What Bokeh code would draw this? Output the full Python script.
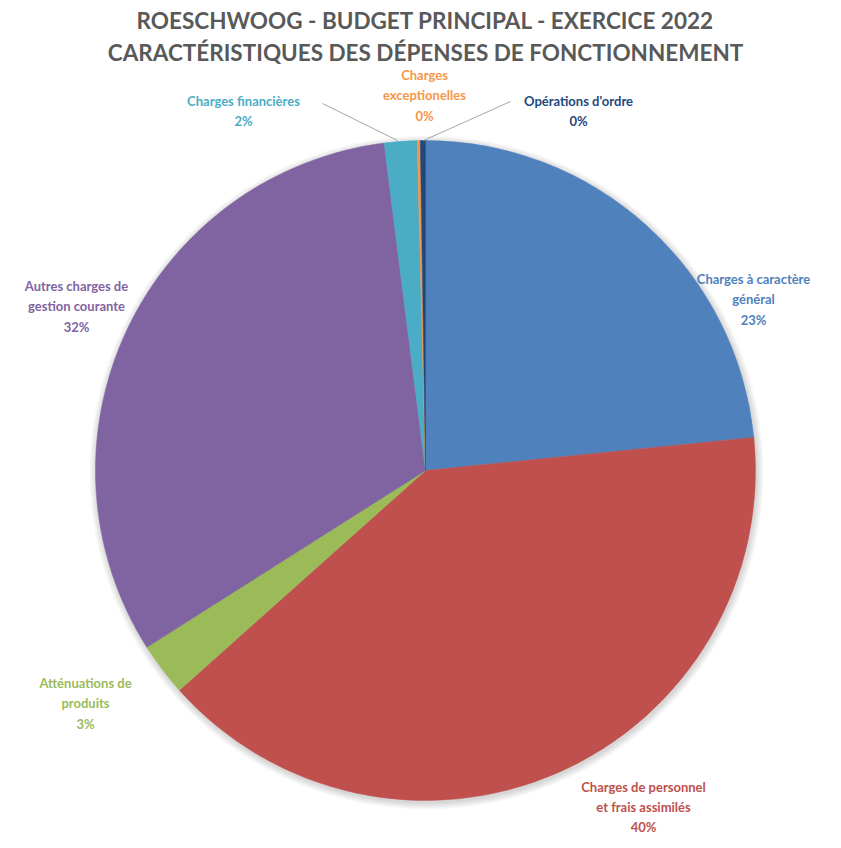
import math
from bokeh.plotting import figure
from bokeh.models import Range1d, ColumnDataSource
from bokeh.core.properties import value
from bokeh.embed import file_html
from bokeh.resources import INLINE

# ---- data ----
categories = [
    "Charges à caractère\ngénéral",
    "Charges de personnel\net frais assimilés",
    "Atténuations de\nproduits",
    "Autres charges de\ngestion courante",
    "Charges financières",
    "Charges\nexceptionelles",
    "Opérations d'ordre",
]
shares = [23.4, 40.0, 2.6, 32.0, 1.6, 0.15, 0.25]
colors = ["#4F81BD", "#C0504D", "#9BBB59", "#8064A2", "#4BACC6", "#F79646", "#1F497D"]
title_lines = ["ROESCHWOOG - BUDGET PRINCIPAL - EXERCICE 2022",
               "CARACTÉRISTIQUES DES DÉPENSES DE FONCTIONNEMENT"]

# ---- layout ----
W, H = 833, 840
def px(x):
    return x
def py(y):
    return H - y

CX, CY, R = px(425), py(470), 330
# label anchor (centre x, first line y) in window pixels
label_pos = [(753, 278), (643, 786), (85, 682), (76, 285), (243, 100), (424, 74), (578, 100)]
line_gap = [20.5, 20.0, 20.5, 20.5, 20.5, 20.5, 20.5]
FONT = "Lato"

p = figure(width=W, height=H, output_backend="svg", toolbar_location=None,
           x_range=Range1d(0, W), y_range=Range1d(0, H), min_border=0)
p.axis.visible = False
p.grid.visible = False
p.outline_line_color = None
p.background_fill_color = "white"
p.border_fill_color = "white"

# soft shadow around the pie
for i in range(8, 0, -1):
    p.circle(x=[CX + 1], y=[CY - 2], radius=R + i * 0.9, fill_color="#000000",
             fill_alpha=0.018, line_color=None)

total = sum(shares)
starts, ends = [], []
cum = 0.0
for s in shares:
    a0 = math.pi / 2 - 2 * math.pi * cum / total
    cum += s
    a1 = math.pi / 2 - 2 * math.pi * cum / total
    starts.append(a1)
    ends.append(a0)

src = ColumnDataSource(dict(start=starts, end=ends, color=colors))
p.wedge(x=CX, y=CY, radius=R, start_angle="start", end_angle="end",
        fill_color="color", line_color="color", line_width=0.5, source=src)

# leader lines
p.line(x=[px(322), px(397)], y=[py(103), py(140)], line_color="#A6A6A6", line_width=1)
p.line(x=[px(510), px(423)], y=[py(101), py(140)], line_color="#A6A6A6", line_width=1)

# labels
for name, s, c, (lx, ly), g in zip(categories, shares, colors, label_pos, line_gap):
    lines = name.split("\n") + [f"{round(s)}%"]
    xs = [px(lx)] * len(lines)
    ys = [py(ly + k * g) for k in range(len(lines))]
    p.text(x=xs, y=ys, text=lines, text_align="center", text_baseline="middle",
           text_font=value(FONT), text_font_style="bold", text_font_size="13px",
           text_color=c)

# title
for k, t in enumerate(title_lines):
    p.text(x=[px(425)], y=[py(20 + k * 32)], text=[t], text_align="center",
           text_baseline="middle", text_font=value(FONT), text_font_style="bold",
           text_font_size="22.5px", text_color="#595959")

open("out.html", "w").write(file_html(p, INLINE))
